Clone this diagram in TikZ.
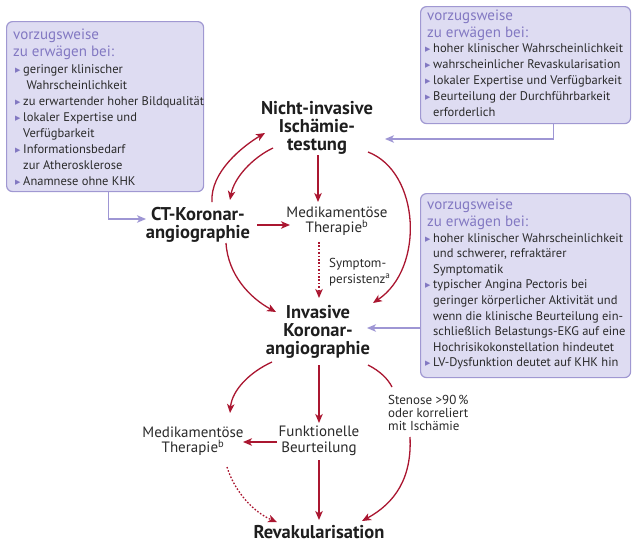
\documentclass[tikz,border=0pt]{standalone}
\usepackage{fontspec}
\setmainfont{PT Sans}
\newfontfamily\symf{DejaVu Sans}
\usetikzlibrary{arrows.meta}
\definecolor{redc}{RGB}{170,22,48}
\definecolor{boxfill}{RGB}{222,220,242}
\definecolor{boxline}{RGB}{160,152,210}
\definecolor{titlec}{RGB}{130,120,194}
\definecolor{bluc}{RGB}{158,150,212}
\definecolor{txtc}{RGB}{30,30,30}
\definecolor{itemc}{RGB}{42,42,42}
\newcommand\bul{\makebox[8pt][l]{\raisebox{1pt}{\textcolor{titlec}{\symf\fontsize{7}{7}\selectfont ▶}}}}
\newcommand\ind{\hspace*{8pt}}
\begin{document}
\begin{tikzpicture}[x=1pt,y=-1pt,
  box/.style={draw=boxline, fill=boxfill, line width=1.2pt, rounded corners=6pt, anchor=north west, inner sep=0},
  ttl/.style={anchor=base west, inner sep=0, text=titlec, font=\fontsize{15}{17}\selectfont},
  itm/.style={anchor=base west, inner sep=0, text=itemc, font=\fontsize{12.5}{16}\selectfont},
  big/.style={align=center, inner sep=0, text=txtc, font=\bfseries\fontsize{18.5}{18}\selectfont},
  bigone/.style={inner sep=0, text=txtc, font=\bfseries\fontsize{18.5}{18}\selectfont},
  mid/.style={align=center, inner sep=0, text=itemc, font=\fontsize{15}{15.5}\selectfont},
  sml/.style={align=left, inner sep=0, text=itemc, font=\fontsize{13}{16}\selectfont},
  tny/.style={align=left, inner sep=0, text=itemc, font=\fontsize{13}{13.2}\selectfont},
  arr/.style={draw=redc, line width=1.3pt, -{Stealth[length=9pt,width=7.5pt,inset=2.5pt]}},
  dotarr/.style={arr, dash pattern=on 1.6pt off 1.8pt},
  plain/.style={draw=redc, line width=1.3pt},
  blu/.style={draw=bluc, line width=1.3pt, -{Stealth[length=9pt,width=7.5pt,inset=2.5pt]}}
]
\fill[white] (0,0) rectangle (632,544);
\useasboundingbox (0,0) rectangle (632,544);

% ---------- boxes ----------
\node[box, minimum width=197pt, minimum height=170pt] (box1) at (6,21) {};
\node[box, minimum width=210pt, minimum height=117pt] (box2) at (420,6) {};
\node[box, minimum width=210pt, minimum height=184pt] (box3) at (420,193) {};

\node[ttl] (b1t1) at (13,39) {vorzugsweise};
\node[ttl] (b1t2) at (13,56) {zu erwägen bei:};
\foreach \t [count=\i from 0] in {{\bul geringer klinischer},{\ind\ Wahrscheinlichkeit},{\bul zu erwartender hoher Bildqualität},{\bul lokaler Expertise und},{\ind Verfügbarkeit},{\bul Informationsbedarf},{\ind zur Atherosklerose},{\bul Anamnese ohne KHK}}
  \node[itm] (b1i\i) at (15,{73+16*\i}) {\t};

\node[ttl] (b2t1) at (427,20) {vorzugsweise};
\node[ttl] (b2t2) at (427,37) {zu erwägen bei:};
\foreach \t [count=\i from 0] in {{\bul hoher klinischer Wahrscheinlichkeit},{\bul wahrscheinlicher Revaskularisation},{\bul lokaler Expertise und Verfügbarkeit},{\bul Beurteilung der Durchführbarkeit},{\ind erforderlich}}
  \node[itm] (b2i\i) at (425,{52+16*\i}) {\t};

\node[ttl] (b3t1) at (427,209) {vorzugsweise};
\node[ttl] (b3t2) at (427,226) {zu erwägen bei:};
\foreach \t [count=\i from 0] in {{\bul hoher klinischer Wahrscheinlichkeit},{\ind und schwerer, refraktärer},{\ind Symptomatik},{\bul typischer Angina Pectoris bei},{\ind geringer körperlicher Aktivität und},{\ind wenn die klinische Beurteilung ein-},{\ind schließlich Belastungs-EKG auf eine},{\ind Hochrisikokonstellation hindeutet},{\bul LV-Dysfunktion deutet auf KHK hin}}
  \node[itm] (b3i\i) at (425,{242+15.6*\i}) {\t};

% ---------- flow nodes ----------
\node[big] (nit) at (317,128) {Nicht-invasive\\Ischämie-\\testung};
\node[big] (ct) at (198,225) {CT-Koronar-\\angiographie};
\node[mid] (med1) at (337,221) {Medikamentöse\\Therapie\textsuperscript{b}};
\node[sml, anchor=west] (sym) at (329,272) {Symptom-\\persistenz\textsuperscript{a}};
\node[big] (inv) at (318,332) {Invasive\\Koronar-\\angiographie};
\node[mid] (med2) at (193,441) {Medikamentöse\\Therapie\textsuperscript{b}};
\node[mid] (fb) at (319,441) {Funktionelle\\Beurteilung};
\node[tny, anchor=west] (sten) at (388,413) {Stenose >90\,\%\\oder korreliert\\mit Ischämie};
\node[bigone, anchor=base] (rev) at (319,538.5) {Revakularisation};

% ---------- connector end points ----------
\coordinate (nitS) at (318,155);
\coordinate (med1N) at (318,202);
\coordinate (ctE) at (257,225);
\coordinate (med1W) at (290,225);
\coordinate (ctN) at (212,202);
\coordinate (nitW) at (265,133);
\coordinate (nitSW) at (273,148);
\coordinate (ctNE) at (230,200);
\coordinate (nitSE) at (368,152);
\coordinate (invNE) at (373,303);
\coordinate (ctS) at (226,243);
\coordinate (invNW) at (276,312);
\coordinate (med1S) at (319,242);
\coordinate (invN) at (319,298);
\coordinate (invSW) at (272,362);
\coordinate (med2N) at (230,413);
\coordinate (invS) at (319,365);
\coordinate (fbN) at (319,423);
\coordinate (fbW) at (277,442);
\coordinate (med2E) at (243,442);
\coordinate (fbS) at (319,460);
\coordinate (revN) at (319,520);
\coordinate (med2S) at (227,467);
\coordinate (revNW) at (277,522);
\coordinate (invSE) at (368,365);
\coordinate (stenN) at (392,387);
\coordinate (stenS) at (410,437);
\coordinate (revNE) at (362,521);
\coordinate (ctin) at (146,219);
\coordinate (nitin) at (385,139);
\coordinate (invin) at (367,328);

% ---------- red connectors ----------
\draw[arr] (nitS) -- (med1N);
\draw[arr] (ctE) -- (med1W);
\draw[arr] (ctN) .. controls (210,172) and (243,146) .. (nitW);
\draw[arr] (nitSW) .. controls (252,158) and (234,178) .. (ctNE);
\draw[arr] (nitSE) .. controls (420,172) and (425,268) .. (invNE);
\draw[arr] (ctS) .. controls (228,275) and (250,298) .. (invNW);
\draw[dotarr] (med1S) -- (invN);
\draw[arr] (invSW) .. controls (250,372) and (232,390) .. (med2N);
\draw[arr] (invS) -- (fbN);
\draw[arr] (fbW) -- (med2E);
\draw[arr] (fbS) -- (revN);
\draw[dotarr] (med2S) .. controls (235,493) and (255,513) .. (revNW);
\draw[plain] (invSE) .. controls (380,371) and (388,379) .. (stenN);
\draw[arr] (stenS) .. controls (412,478) and (395,503) .. (revNE);

% ---------- blue connectors ----------
\draw[blu] ([xshift=3.5pt]box1.south) |- (ctin);
\draw[blu] ([xshift=28pt]box2.south) |- (nitin);
\draw[blu] (box3.west |- invin) -- (invin);
\end{tikzpicture}
\end{document}
